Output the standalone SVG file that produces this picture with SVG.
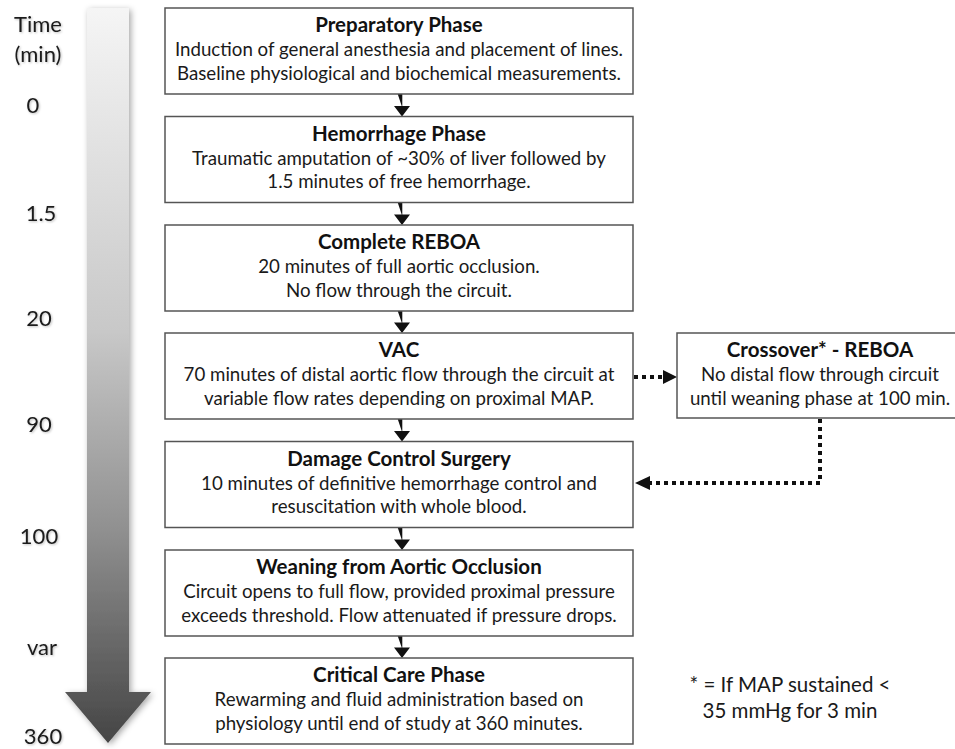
<svg xmlns="http://www.w3.org/2000/svg" width="955" height="749" viewBox="0 0 955 749">
<defs>
<style>
.box{fill:#fff;stroke:#555;stroke-width:1.5}
.t{font-family:Lato,"Open Sans","Liberation Sans",sans-serif;font-weight:bold;font-size:20.5px;fill:#111;text-anchor:middle}
.b{font-family:Lato,"Open Sans","Liberation Sans",sans-serif;font-size:18.7px;fill:#1a1a1a;text-anchor:middle}
.tm{font-family:Lato,"Open Sans","Liberation Sans",sans-serif;font-size:22px;fill:#1a1a1a;text-anchor:middle}
.fn{font-family:Lato,"Open Sans","Liberation Sans",sans-serif;font-size:20.5px;fill:#1a1a1a;text-anchor:middle}
.arr{fill:#111}
.dot{fill:none;stroke:#111;stroke-width:4;stroke-dasharray:4 4}
</style>
<linearGradient id="g" x1="0" y1="8" x2="0" y2="743" gradientUnits="userSpaceOnUse">
<stop offset="0" stop-color="#f5f5f5"/>
<stop offset="0.44" stop-color="#c8c8c8"/>
<stop offset="0.71" stop-color="#909090"/>
<stop offset="1" stop-color="#454545"/>
</linearGradient>
<filter id="sh" x="-50%" y="-5%" width="200%" height="110%">
<feDropShadow dx="2" dy="2" stdDeviation="3" flood-color="#000" flood-opacity="0.35"/>
</filter>
<filter id="ts" x="-20%" y="-20%" width="140%" height="140%">
<feDropShadow dx="1" dy="1" stdDeviation="1.2" flood-color="#000" flood-opacity="0.25"/>
</filter>
</defs>

<g id="timeline">
<path d="M87,8 L129,8 L129,692 L151,692 L108,743 L65,692 L87,692 Z" fill="url(#g)" filter="url(#sh)"/>
<g filter="url(#ts)">
<text class="tm" x="38" y="32">Time</text>
<text class="tm" x="38" y="62">(min)</text>
<text class="tm" x="33" y="113">0</text>
<text class="tm" x="41" y="221">1.5</text>
<text class="tm" x="39" y="326">20</text>
<text class="tm" x="39" y="432">90</text>
<text class="tm" x="39" y="544">100</text>
<text class="tm" x="42" y="655">var</text>
<text class="tm" x="43" y="744">360</text>
</g>
</g>

<g id="connectors">
<path class="arr" d="M397.7,94 h4.6 v12 h7.7 l-8,10.5 l-8,-10.5 h7.7 Z"/>
<path class="arr" d="M397.7,202.5 h4.6 v12 h7.7 l-8,10.5 l-8,-10.5 h7.7 Z"/>
<path class="arr" d="M397.7,311 h4.6 v11.5 h7.7 l-8,10.5 l-8,-10.5 h7.7 Z"/>
<path class="arr" d="M397.7,419 h4.6 v12 h7.7 l-8,10.5 l-8,-10.5 h7.7 Z"/>
<path class="arr" d="M397.7,527.5 h4.6 v12 h7.7 l-8,10.5 l-8,-10.5 h7.7 Z"/>
<path class="arr" d="M397.7,636 h4.6 v11.5 h7.7 l-8,10.5 l-8,-10.5 h7.7 Z"/>
<path class="dot" d="M634,377 H663"/>
<path class="arr" d="M663,370 L677,377 L663,384 Z"/>
<path class="dot" d="M820,419 V483 H650"/>
<path class="arr" d="M650,476 L635,483 L650,490 Z"/>
</g>

<g id="n1">
<rect class="box" x="165" y="8" width="468" height="86"/>
<text class="t" x="399" y="32">Preparatory Phase</text>
<text class="b" x="399" y="56">Induction of general anesthesia and placement of lines.</text>
<text class="b" x="399" y="79.5">Baseline physiological and biochemical measurements.</text>
</g>
<g id="n2">
<rect class="box" x="165" y="116.5" width="468" height="86"/>
<text class="t" x="399" y="140.5">Hemorrhage Phase</text>
<text class="b" x="399" y="164.5">Traumatic amputation of ~30% of liver followed by</text>
<text class="b" x="399" y="188">1.5 minutes of free hemorrhage.</text>
</g>
<g id="n3">
<rect class="box" x="165" y="225" width="468" height="86"/>
<text class="t" x="399" y="249">Complete REBOA</text>
<text class="b" x="399" y="273">20 minutes of full aortic occlusion.</text>
<text class="b" x="399" y="296.5">No flow through the circuit.</text>
</g>
<g id="n4">
<rect class="box" x="165" y="333" width="468" height="86"/>
<text class="t" x="399" y="357">VAC</text>
<text class="b" x="399" y="381">70 minutes of distal aortic flow through the circuit at</text>
<text class="b" x="399" y="404.5">variable flow rates depending on proximal MAP.</text>
</g>
<g id="n5">
<rect class="box" x="165" y="441.5" width="468" height="86"/>
<text class="t" x="399" y="465.5">Damage Control Surgery</text>
<text class="b" x="399" y="489.5">10 minutes of definitive hemorrhage control and</text>
<text class="b" x="399" y="513">resuscitation with whole blood.</text>
</g>
<g id="n6">
<rect class="box" x="165" y="550" width="468" height="86"/>
<text class="t" x="399" y="574">Weaning from Aortic Occlusion</text>
<text class="b" x="399" y="598">Circuit opens to full flow, provided proximal pressure</text>
<text class="b" x="399" y="621.5">exceeds threshold. Flow attenuated if pressure drops.</text>
</g>
<g id="n7">
<rect class="box" x="165" y="658" width="468" height="86"/>
<text class="t" x="399" y="682">Critical Care Phase</text>
<text class="b" x="399" y="706">Rewarming and fluid administration based on</text>
<text class="b" x="399" y="729.5">physiology until end of study at 360 minutes.</text>
</g>
<g id="crossover">
<rect class="box" x="677" y="333" width="286" height="85"/>
<text class="t" x="820" y="357">Crossover* - REBOA</text>
<text class="b" x="820" y="381">No distal flow through circuit</text>
<text class="b" x="820" y="404.5">until weaning phase at 100 min.</text>
</g>
<g id="footnote">
<text class="fn" x="790" y="692">* = If MAP sustained &lt;</text>
<text class="fn" x="790" y="718">35 mmHg for 3 min</text>
</g>
</svg>
